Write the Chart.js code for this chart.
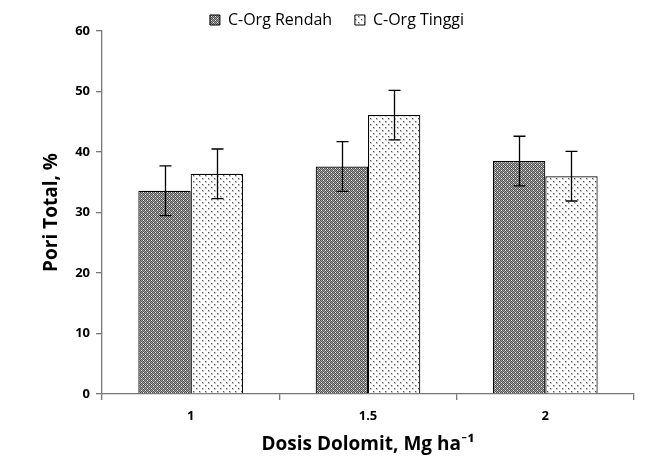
<!DOCTYPE html>
<html><head><meta charset="utf-8">
<script src="https://cdn.jsdelivr.net/npm/chart.js@4"></script>
<style>html,body{margin:0;padding:0;background:#fff}#wrap{width:652px;height:468px}</style>
</head><body><div id="wrap"><canvas id="c" width="652" height="468"></canvas></div>
<script>
const categories = ['1', '1.5', '2'];
const seriesNames = ['C-Org Rendah', 'C-Org Tinggi'];
const rendahValues = [33.6, 37.6, 38.5];
const tinggiValues = [36.4, 46.1, 36.0];
const rendahErrors = [4.1, 4.1, 4.1];
const tinggiErrors = [4.1, 4.1, 4.1];
const yTicks = [0, 10, 20, 30, 40, 50, 60];

function makePattern(kind){
  const p = document.createElement('canvas');
  const ctx = p.getContext('2d');
  if(kind==='check'){
    p.width=4;p.height=4;
    ctx.fillStyle='#a4a4a4';ctx.fillRect(0,0,4,4);
    ctx.fillStyle='#505050';
    for(let i=0;i<4;i++)for(let j=0;j<4;j++) if((i+j)%2===0) ctx.fillRect(i,j,1,1);
    ctx.fillStyle='#e8e8e8';ctx.fillRect(3,0,1,1);ctx.fillRect(1,2,1,1);
  } else {
    p.width=6;p.height=6;
    ctx.fillStyle='#fff';ctx.fillRect(0,0,6,6);
    ctx.fillStyle='#c8c8c8';ctx.fillRect(1,1,2,2);ctx.fillRect(4,4,2,2);
    ctx.fillStyle='#555';ctx.fillRect(1,1,1,1);ctx.fillRect(4,4,1,1);
  }
  return document.getElementById('c').getContext('2d').createPattern(p,'repeat');
}
const patR = makePattern('check'), patT = makePattern('dots');

const errorBars = {
  id:'errorBars',
  afterDatasetsDraw(chart){
    const ctx=chart.ctx, y=chart.scales.y;
    const errs=[rendahErrors,tinggiErrors];
    chart.data.datasets.forEach((ds,di)=>{
      const meta=chart.getDatasetMeta(di);
      meta.data.forEach((bar,i)=>{
        const v=ds.data[i], e=errs[di][i];
        const yt=y.getPixelForValue(v+e), yb=y.getPixelForValue(v-e);
        const x=Math.round(bar.x)+0.5;
        ctx.save();ctx.strokeStyle='#000';ctx.lineWidth=1.3;
        ctx.beginPath();
        ctx.moveTo(x,yt);ctx.lineTo(x,yb);
        ctx.moveTo(x-6,yt);ctx.lineTo(x+6,yt);
        ctx.moveTo(x-6,yb);ctx.lineTo(x+6,yb);
        ctx.stroke();ctx.restore();
      });
    });
  }
};

const legendShift = {
  id:'legendShift',
  afterLayout(chart){
    if(chart.legend){ chart.legend.top += 7; chart.legend.bottom += 7; }
  }
};

const fontFam = '"Open Sans", Lato, sans-serif';
new Chart(document.getElementById('c'),{
  type:'bar',
  data:{labels:categories,datasets:[
    {label:seriesNames[0],data:rendahValues,backgroundColor:patR,borderColor:'#000',borderWidth:1.2},
    {label:seriesNames[1],data:tinggiValues,backgroundColor:patT,borderColor:'#000',borderWidth:1.2}
  ]},
  options:{
    responsive:false,animation:false,
    layout:{padding:{left:40,right:18,top:3,bottom:12}},
    datasets:{bar:{categoryPercentage:0.59,barPercentage:1}},
    plugins:{
      legend:{position:'top',labels:{boxWidth:10,boxHeight:10,font:{family:fontFam,size:16},color:'#000',padding:2,
        generateLabels(chart){
          const items=Chart.defaults.plugins.legend.labels.generateLabels(chart);
          items[0].text=items[0].text+'     ';
          items.forEach(it=>{it.lineWidth=1;it.strokeStyle='#000';});
          return items;
        }}},
      tooltip:{enabled:false}
    },
    scales:{
      x:{
        grid:{display:true,drawOnChartArea:false,offset:true,color:'#777',tickLength:6,lineWidth:1.3},
        border:{color:'#777',width:1.3},
        ticks:{font:{family:fontFam,size:13,weight:'bold'},color:'#000',padding:8},
        title:{display:true,text:'Dosis Dolomit, Mg ha⁻¹',font:{family:fontFam,size:19,weight:'bold'},color:'#000',padding:{top:4,bottom:0}},
        afterFit(s){s.height=62;}
      },
      y:{
        min:0,max:60,
        afterBuildTicks(s){s.ticks=yTicks.map(v=>({value:v}));},
        grid:{display:true,drawOnChartArea:false,color:'#777',tickLength:6,lineWidth:1.3},
        border:{color:'#777',width:1.3},
        ticks:{font:{family:fontFam,size:13,weight:'bold'},color:'#000',padding:6},
        title:{display:true,text:'Pori Total, %',font:{family:fontFam,size:19,weight:'bold'},color:'#000',padding:0},
        afterFit(s){s.width=62;}
      }
    }
  },
  plugins:[errorBars, legendShift]
});
</script></body></html>
